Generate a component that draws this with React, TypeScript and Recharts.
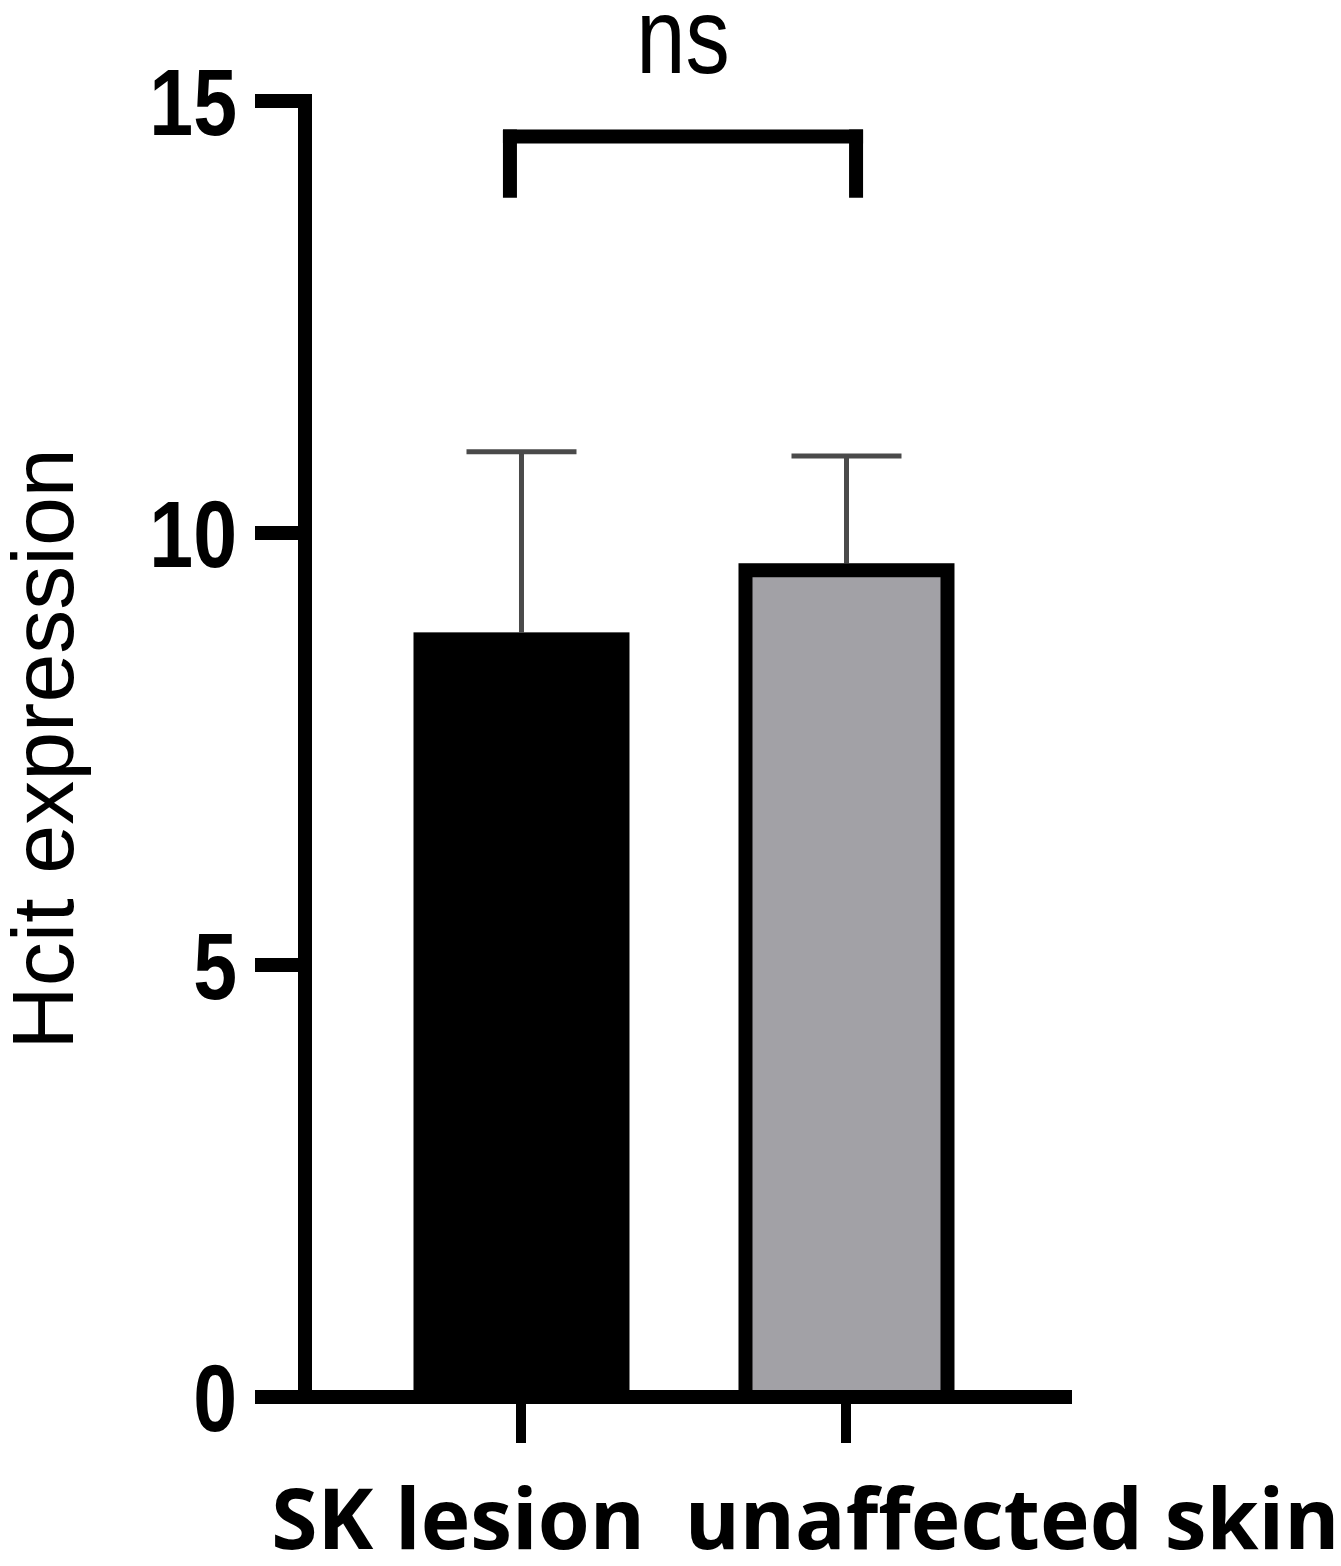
import React from 'react';
import { BarChart, Bar, XAxis, YAxis, ReferenceLine } from 'recharts';

// values
const categories: string[] = ['SK lesion', 'unaffected skin'];
const means: number[] = [8.85, 9.65];
const sds: number[] = [2.09, 1.24];
const yTicks: number[] = [0, 5, 10, 15];

const data = categories.map((name, i) => ({ pos: i + 1, name, mean: means[i], sd: sds[i] }));

// bracket above the bars (data coordinates)
const bracketLeft = 0.966;
const bracketRight = 2.031;
const bracketTop = 14.59;
const bracketFoot = 13.96;

const barFills = ['#000000', '#a2a1a6'];
const sans = "'Liberation Sans', Arial, sans-serif";

const BarShape = (props: any) => {
  const { x, y, width, height, payload, index } = props;
  const cx = x + width / 2;
  const pxPerUnit = height / payload.mean;
  const top = y - payload.sd * pxPerUnit;
  const capHalf = 55;
  return (
    <g>
      <line x1={cx} y1={y} x2={cx} y2={top} stroke="#4a4a4a" strokeWidth={5} />
      <line x1={cx - capHalf} y1={top} x2={cx + capHalf} y2={top} stroke="#4a4a4a" strokeWidth={5} />
      {index === 0 ? (
        <rect x={x} y={y} width={width} height={height} fill={barFills[0]} />
      ) : (
        <rect x={x + 7} y={y + 7} width={width - 14} height={height - 7} fill={barFills[1]} stroke="#000" strokeWidth={14} />
      )}
    </g>
  );
};

const labelShift: Record<number, number> = { 1: -63, 2: 166 };

const CategoryTick = (props: any) => {
  const { x, y, payload } = props;
  return (
    <text
      x={x + (labelShift[payload.value] || 0)}
      y={y}
      dy={106}
      textAnchor="middle"
      fill="#000"
      fontSize={84}
      fontWeight={700}
      fontFamily="'Open Sans', sans-serif"
    >
      {categories[payload.value - 1]}
    </text>
  );
};

// condensed bold numbers, like the original
const ValueTick = (props: any) => {
  const { x, y, payload } = props;
  return (
    <g transform={`translate(${x},${y}) scale(0.83,1)`}>
      <text x={0} y={0} dy={34} textAnchor="end" fill="#000" fontSize={95} fontWeight={700} fontFamily={sans}>
        {payload.value}
      </text>
    </g>
  );
};

const YLabel = (props: any) => {
  const vb = props.viewBox || { x: 0, y: 101, width: 305, height: 1296 };
  const lx = vb.x + 73;
  const ly = vb.y + vb.height / 2;
  return (
    <text
      x={lx}
      y={ly}
      transform={`rotate(-90 ${lx} ${ly})`}
      textAnchor="middle"
      fill="#000"
      fontSize={88}
      fontFamily={sans}
    >
      Hcit expression
    </text>
  );
};

const NsLabel = (props: any) => {
  const vb = props.viewBox || { x: 510, y: 136, width: 346, height: 0 };
  const cx = vb.x + vb.width / 2;
  const by = vb.y - 63;
  return (
    <g transform={`translate(${cx},${by}) scale(0.82,1)`}>
      <text x={0} y={0} textAnchor="middle" fill="#000" fontSize={108} fontFamily={sans}>
        ns
      </text>
    </g>
  );
};

const App: React.FC = () => (
  <div style={{ position: 'absolute', left: 0, top: 0, background: '#fff' }}>
    <BarChart
      width={1341}
      height={1566}
      data={data}
      margin={{ top: 101, right: 269, bottom: 0, left: 0 }}
    >
      <XAxis
        type="number"
        dataKey="pos"
        domain={[0.3354, 2.6954]}
        ticks={[1, 2]}
        allowDataOverflow
        height={169}
        axisLine={{ stroke: '#000', strokeWidth: 14 }}
        tickLine={{ stroke: '#000', strokeWidth: 10 }}
        tickSize={46}
        tickMargin={0}
        tick={<CategoryTick />}
        interval={0}
      />
      <YAxis
        type="number"
        domain={[0, 15]}
        ticks={yTicks}
        width={305}
        axisLine={{ stroke: '#000', strokeWidth: 14, strokeLinecap: 'square' }}
        tickLine={{ stroke: '#000', strokeWidth: 14 }}
        tickSize={50}
        tickMargin={18}
        tick={<ValueTick />}
        label={<YLabel />}
      />
      <Bar dataKey="mean" barSize={216} shape={<BarShape />} isAnimationActive={false} />
      <ReferenceLine
        segment={[{ x: bracketLeft, y: bracketFoot }, { x: bracketLeft, y: bracketTop }]}
        stroke="#000"
        strokeWidth={14}
        strokeLinecap="square"
      />
      <ReferenceLine
        segment={[{ x: bracketRight, y: bracketFoot }, { x: bracketRight, y: bracketTop }]}
        stroke="#000"
        strokeWidth={14}
        strokeLinecap="square"
      />
      <ReferenceLine
        segment={[{ x: bracketLeft, y: bracketTop }, { x: bracketRight, y: bracketTop }]}
        stroke="#000"
        strokeWidth={14}
        strokeLinecap="square"
        label={<NsLabel />}
      />
    </BarChart>
  </div>
);

export default App;
